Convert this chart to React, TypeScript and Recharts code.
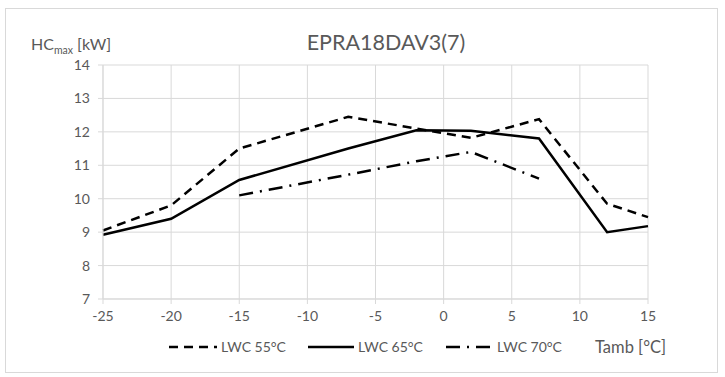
import React from "react";
import { LineChart, Line, XAxis, YAxis, CartesianGrid } from "recharts";

const temps = [-25, -20, -15, -7, -2, 2, 7, 12, 15];
const lwc55 = [9.05, 9.8, 11.5, 12.45, 12.1, 11.82, 12.38, 9.85, 9.45];
const lwc65 = [8.92, 9.4, 10.56, 11.5, 12.05, 12.03, 11.8, 9.0, 9.18];
const lwc70 = [null, null, 10.1, 10.72, 11.12, 11.4, 10.6, null, null];
const xTicks = [-25, -20, -15, -10, -5, 0, 5, 10, 15];
const yTicks = [7, 8, 9, 10, 11, 12, 13, 14];

const data = temps.map((t, i) => ({ t, a: lwc55[i], b: lwc65[i], c: lwc70[i] }));

const FONT = "Lato, 'Liberation Sans', sans-serif";
const GRAY = "#595959";
const GRID = "#d9d9d9";

const series = [
  { key: "a", name: "LWC 55°C", dash: "9 6" },
  { key: "b", name: "LWC 65°C", dash: undefined },
  { key: "c", name: "LWC 70°C", dash: "14 7 2 7" },
];

const legendPos = [
  { x1: 169, x2: 217, tx: 221 },
  { x1: 308, x2: 354, tx: 358 },
  { x1: 446, x2: 493, tx: 497 },
];

export default function App() {
  return (
    <div style={{ position: "absolute", left: 0, top: 0, width: 725, height: 377, background: "#fff", fontFamily: FONT }}>
      <div style={{ position: "absolute", left: 5, top: 8, width: 711, height: 363, border: `1px solid ${GRID}` }} />
      <LineChart
        width={725}
        height={377}
        data={data}
        margin={{ top: 65, right: 77, bottom: 48, left: 0 }}
        style={{ position: "absolute", left: 0, top: 0 }}
      >
        <CartesianGrid stroke={GRID} strokeWidth={1} />
        <XAxis
          dataKey="t"
          type="number"
          domain={[-25, 15]}
          ticks={xTicks}
          height={30}
          tickSize={5}
          tickMargin={7}
          stroke={GRID}
          tick={{ fill: GRAY, fontSize: 14, fontFamily: FONT }}
          interval={0}
        />
        <YAxis
          type="number"
          domain={[7, 14]}
          ticks={yTicks}
          width={103}
          tickSize={5}
          tickMargin={8}
          stroke={GRID}
          tick={{ fill: GRAY, fontSize: 14, fontFamily: FONT }}
          interval={0}
        />
        {series.map((s) => (
          <Line
            key={s.key}
            dataKey={s.key}
            name={s.name}
            stroke="#000"
            strokeWidth={2.5}
            strokeDasharray={s.dash}
            dot={false}
            activeDot={false}
            isAnimationActive={false}
            type="linear"
          />
        ))}
      </LineChart>
      <svg width={725} height={377} style={{ position: "absolute", left: 0, top: 0, pointerEvents: "none" }}>
        <text x={386} y={50} textAnchor="middle" fontSize={21.5} fill={GRAY} fontFamily={FONT}>EPRA18DAV3(7)</text>
        <text x={31} y={50} fontSize={16} fill={GRAY} fontFamily={FONT}>
          HC<tspan fontSize={10.5} dy={4}>max</tspan><tspan dy={-4}> [kW]</tspan>
        </text>
        {series.map((s, i) => (
          <g key={s.key}>
            <line x1={legendPos[i].x1} x2={legendPos[i].x2} y1={347} y2={347} stroke="#000" strokeWidth={2.5} strokeDasharray={s.dash} />
            <text x={legendPos[i].tx} y={352} fontSize={14} fill={GRAY} fontFamily={FONT}>{s.name}</text>
          </g>
        ))}
        <text x={595} y={353} fontSize={16.5} fill={GRAY} fontFamily={FONT}>Tamb [°C]</text>
      </svg>
    </div>
  );
}
